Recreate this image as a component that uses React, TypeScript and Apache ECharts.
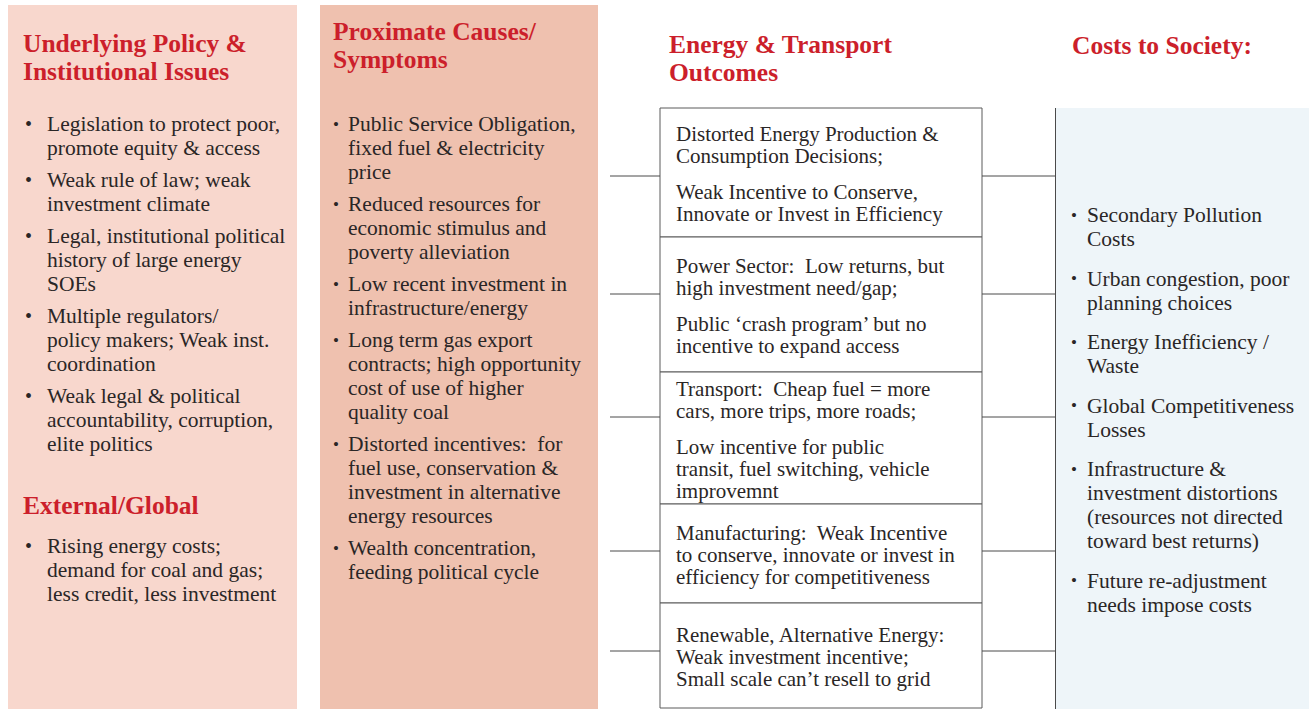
import React, { useEffect, useRef } from "react";
import * as echarts from "echarts";

// ---- content ----
const col1Title = ["Underlying Policy &", "Institutional Issues"];
const col1Items = [
  ["Legislation to protect poor,", "promote equity & access"],
  ["Weak rule of law; weak", "investment climate"],
  ["Legal, institutional political", "history of large energy", "SOEs"],
  ["Multiple regulators/", "policy makers; Weak inst.", "coordination"],
  ["Weak legal & political", "accountability, corruption,", "elite politics"],
];
const col1ExtTitle = ["External/Global"];
const col1ExtItems = [["Rising energy costs;", "demand for coal and gas;", "less credit, less investment"]];

const col2Title = ["Proximate Causes/", "Symptoms"];
const col2Items = [
  ["Public Service Obligation,", "fixed fuel & electricity", "price"],
  ["Reduced resources for", "economic stimulus and", "poverty alleviation"],
  ["Low recent investment in", "infrastructure/energy"],
  ["Long term gas export", "contracts; high opportunity", "cost of use of higher", "quality coal"],
  ["Distorted incentives:  for", "fuel use, conservation &", "investment in alternative", "energy resources"],
  ["Wealth concentration,", "feeding political cycle"],
];

const col3Title = ["Energy & Transport", "Outcomes"];
const col3Boxes = [
  [["Distorted Energy Production &", "Consumption Decisions;"], ["Weak Incentive to Conserve,", "Innovate or Invest in Efficiency"]],
  [["Power Sector:  Low returns, but", "high investment need/gap;"], ["Public \u2018crash program\u2019 but no", "incentive to expand access"]],
  [["Transport:  Cheap fuel = more", "cars, more trips, more roads;"], ["Low incentive for public", "transit, fuel switching, vehicle", "improvemnt"]],
  [["Manufacturing:  Weak Incentive", "to conserve, innovate or invest in", "efficiency for competitiveness"]],
  [["Renewable, Alternative Energy:", "Weak investment incentive;", "Small scale can\u2019t resell to grid"]],
];

const col4Title = ["Costs to Society:"];
const col4Items = [
  ["Secondary Pollution", "Costs"],
  ["Urban congestion, poor", "planning choices"],
  ["Energy Inefficiency /", "Waste"],
  ["Global Competitiveness", "Losses"],
  ["Infrastructure &", "investment distortions", "(resources not directed", "toward best returns)"],
  ["Future re-adjustment", "needs impose costs"],
];

// ---- layout / style ----
const W = 1309;
const H = 709;
const FONT = '"Liberation Serif", "DejaVu Serif", serif';
const RED = "#cc1f2b";
const INK = "#2a2626";
const BODY = 21.5;
const BOXF = 21;
const TITLE = 25.5;
const TITLE_LH = 28;

const boxEdges = [108, 237, 372, 504, 603, 708];
const connectorY = [176, 294, 417, 551, 651];

function titleEls(lines: string[], x: number, yFirst: number) {
  return lines.map((t, i) => ({
    type: "text",
    x,
    y: yFirst + i * TITLE_LH,
    silent: true,
    style: {
      text: t,
      font: `bold ${TITLE}px ${FONT}`,
      fill: RED,
      textVerticalAlign: "middle",
    },
  }));
}

function bulletEls(
  items: string[][],
  xBullet: number,
  xText: number,
  yFirst: number,
  lh: number,
  gap: number,
  bulletSize: number
) {
  const els: any[] = [];
  let y = yFirst;
  items.forEach((lines) => {
    els.push({
      type: "text",
      x: xBullet,
      y,
      silent: true,
      style: { text: "\u2022", font: `${bulletSize}px ${FONT}`, fill: INK, textVerticalAlign: "middle" },
    });
    lines.forEach((t, i) => {
      els.push({
        type: "text",
        x: xText,
        y: y + i * lh,
        silent: true,
        style: { text: t, font: `${BODY}px ${FONT}`, fill: INK, textVerticalAlign: "middle" },
      });
    });
    y += lines.length * lh + gap;
  });
  return els;
}

function buildGraphics() {
  const els: any[] = [];
  // backgrounds
  els.push({ type: "rect", shape: { x: 8, y: 5, width: 289, height: H - 5 }, style: { fill: "#f8d7cd" }, silent: true });
  els.push({ type: "rect", shape: { x: 320, y: 5, width: 278, height: H - 5 }, style: { fill: "#efc1af" }, silent: true });
  els.push({ type: "rect", shape: { x: 1056, y: 108, width: W - 1056, height: H - 108 }, style: { fill: "#eef5f9" }, silent: true });

  // column 1
  els.push(...titleEls(col1Title, 23, 43.5));
  els.push(...bulletEls(col1Items, 25, 47, 124, 24, 8, 20));
  els.push(...titleEls(col1ExtTitle, 23, 505));
  els.push(...bulletEls(col1ExtItems, 25, 47, 546, 24, 8, 20));

  // column 2
  els.push(...titleEls(col2Title, 333, 31.5));
  els.push(...bulletEls(col2Items, 333, 348, 124, 24, 8, 17));

  // column 3
  els.push(...titleEls(col3Title, 669, 44.5));
  col3Boxes.forEach((paras, b) => {
    const top = boxEdges[b];
    const bottom = boxEdges[b + 1];
    els.push({
      type: "rect",
      shape: { x: 660, y: top, width: 322, height: bottom - top },
      style: { fill: "#ffffff", stroke: "#5a5a5a", lineWidth: 1 },
      silent: true,
    });
    const lh = 22;
    const pg = 14;
    const nLines = paras.reduce((s, p) => s + p.length, 0);
    const span = (nLines - 1) * lh + (paras.length - 1) * pg;
    let y = (top + bottom) / 2 + 1.5 - span / 2;
    paras.forEach((p) => {
      p.forEach((t) => {
        els.push({
          type: "text",
          x: 676,
          y,
          silent: true,
          style: { text: t, font: `${BOXF}px ${FONT}`, fill: INK, textVerticalAlign: "middle" },
        });
        y += lh;
      });
      y += pg;
    });
  });
  connectorY.forEach((cy) => {
    els.push({ type: "line", shape: { x1: 610, y1: cy, x2: 660, y2: cy }, style: { stroke: "#4a4a4a", lineWidth: 1 }, silent: true });
    els.push({ type: "line", shape: { x1: 982, y1: cy, x2: 1055, y2: cy }, style: { stroke: "#4a4a4a", lineWidth: 1 }, silent: true });
  });
  els.push({ type: "line", shape: { x1: 1055.5, y1: 108, x2: 1055.5, y2: H }, style: { stroke: "#4a4a4a", lineWidth: 1 }, silent: true });

  // column 4
  els.push(...titleEls(col4Title, 1072, 45));
  els.push(...bulletEls(col4Items, 1071, 1087, 215, 24, 15.5, 17));

  return els;
}

export default function App() {
  const ref = useRef<HTMLDivElement>(null);
  useEffect(() => {
    document.body.style.margin = "0";
    if (!ref.current) return;
    const chart = echarts.init(ref.current, undefined, { renderer: "svg", width: W, height: H });
    chart.setOption({
      animation: false,
      backgroundColor: "#ffffff",
      graphic: { elements: buildGraphics() },
    });
    return () => chart.dispose();
  }, []);
  return <div ref={ref} style={{ width: W, height: H }} />;
}
